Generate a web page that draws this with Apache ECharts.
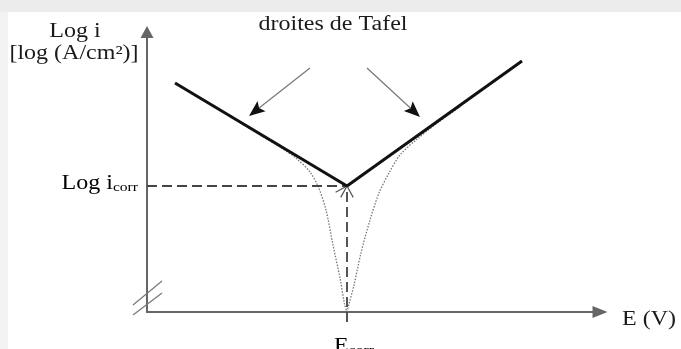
<!DOCTYPE html>
<html><head><meta charset="utf-8">
<script src="https://cdn.jsdelivr.net/npm/echarts@6/dist/echarts.min.js"></script>
<style>html,body{margin:0;padding:0;background:#fff}#c{width:681px;height:349px}</style>
</head><body><div id="c"></div>
<script>
// ---- data (arbitrary E / log i units) ----
const Ecorr = 20.0;
const logIcorr = 12.6;
const xRange = [0, 45.3];
const yRange = [0, 28];
const cathodicTafel = [[2.8, 22.9], [20.0, 12.6]];
const anodicTafel = [[20.0, 12.6], [37.5, 25.1]];
const cathodicCurve = [[8.3, 19.55], [11.3, 17.7], [13.3, 16.5], [15.0, 15.3], [16.3, 14.0], [17.1, 12.6], [17.9, 10.2], [18.6, 6.7], [19.3, 3.4], [19.75, 0.8], [20.0, 0]];
const anodicCurve = [[20.0, 0], [20.2, 0.8], [20.7, 2.7], [21.4, 5.9], [22.3, 9.2], [23.2, 11.9], [24.2, 13.9], [25.3, 15.7], [26.9, 17.2], [29.3, 19.1], [31.3, 20.5]];
const tafelArrows = [[16.3, 24.4, 10.2, 19.6], [22.0, 24.4, 27.3, 19.5]];
const guideArrows = [[0, logIcorr, Ecorr, logIcorr], [Ecorr, -1, Ecorr, logIcorr]];
const yTitle = ['Log i', '[log (A/cm²)]'];
const annotation = 'droites de Tafel';
const xName = 'E (V)';

const FONT = "'Liberation Serif', 'Times New Roman', serif";
const chart = echarts.init(document.getElementById('c'), null, {renderer: 'canvas'});

function renderTafelArrow(params, api) {
  const p1 = api.coord([api.value(0), api.value(1)]);
  const p2 = api.coord([api.value(2), api.value(3)]);
  const a = Math.atan2(p2[1] - p1[1], p2[0] - p1[0]);
  const c = Math.cos(a), s = Math.sin(a);
  const L = 16, W = 6.5;
  const base = [p2[0] - L * c, p2[1] - L * s];
  const notch = [p2[0] - L * 0.8 * c, p2[1] - L * 0.8 * s];
  const nx = -s, ny = c;
  return {type: 'group', children: [
    {type: 'line', shape: {x1: p1[0], y1: p1[1], x2: notch[0], y2: notch[1]}, style: {stroke: '#777', lineWidth: 1.2}},
    {type: 'polygon', shape: {points: [p2, [base[0] + nx * W, base[1] + ny * W], notch, [base[0] - nx * W, base[1] - ny * W]]}, style: {fill: '#111'}}
  ]};
}
function renderGuideArrow(params, api) {
  const p1 = api.coord([api.value(0), api.value(1)]);
  const p2 = api.coord([api.value(2), api.value(3)]);
  const a = Math.atan2(p2[1] - p1[1], p2[0] - p1[0]);
  const L = 13, h = 0.5;
  const b1 = [p2[0] - L * Math.cos(a - h), p2[1] - L * Math.sin(a - h)];
  const b2 = [p2[0] - L * Math.cos(a + h), p2[1] - L * Math.sin(a + h)];
  return {type: 'group', children: [
    {type: 'line', shape: {x1: p1[0], y1: p1[1], x2: p2[0], y2: p2[1]}, style: {stroke: '#444', lineWidth: 1.8, lineDash: [10, 5]}},
    {type: 'polyline', shape: {points: [b1, p2, b2]}, style: {stroke: '#555', lineWidth: 1.2, fill: null}}
  ]};
}

const axisLineStyle = {color: '#666', width: 2};
chart.setOption({
  animation: false,
  backgroundColor: '#fff',
  grid: {left: 147, top: 32, width: 453, height: 280},
  xAxis: {type: 'value', min: xRange[0], max: xRange[1],
    axisLine: {show: true, symbol: ['none', 'triangle'], symbolSize: [12, 15], lineStyle: axisLineStyle},
    axisTick: {show: false}, axisLabel: {show: false}, splitLine: {show: false}},
  yAxis: {type: 'value', min: yRange[0], max: yRange[1],
    axisLine: {show: true, symbol: ['none', 'triangle'], symbolSize: [13, 12], lineStyle: axisLineStyle},
    axisTick: {show: false}, axisLabel: {show: false}, splitLine: {show: false}},
  series: [
    {type: 'line', data: cathodicCurve, smooth: 0.3, showSymbol: false, clip: false,
      lineStyle: {color: '#777', width: 1.3, type: [1.5, 1.5]}, z: 2},
    {type: 'line', data: anodicCurve, smooth: 0.3, showSymbol: false, clip: false,
      lineStyle: {color: '#777', width: 1.3, type: [1.5, 1.5]}, z: 2},
    {type: 'custom', data: guideArrows, renderItem: renderGuideArrow, clip: false, encode: {x: [0, 2], y: [1, 3]}, z: 3},
    {type: 'line', data: cathodicTafel, showSymbol: false, clip: false, lineStyle: {color: '#111', width: 3}, z: 4},
    {type: 'line', data: anodicTafel, showSymbol: false, clip: false, lineStyle: {color: '#111', width: 3}, z: 4},
    {type: 'custom', data: tafelArrows, renderItem: renderTafelArrow, clip: false, encode: {x: [0, 2], y: [1, 3]}, z: 4}
  ]
});

const o = chart.convertToPixel({gridIndex: 0}, [0, 0]);
const pI = chart.convertToPixel({gridIndex: 0}, [0, logIcorr]);
const pE = chart.convertToPixel({gridIndex: 0}, [Ecorr, 0]);
const pX = chart.convertToPixel({gridIndex: 0}, [xRange[1], 0]);
const SX = 1.2;
function txt(x, y, text, align, extra) {
  return Object.assign({type: 'text', x: x, y: y, scaleX: SX, z: 10,
    style: {text: text, font: '20px ' + FONT, fill: '#1a1a1a', align: align, verticalAlign: 'middle'}}, extra || {});
}
const subRich = {
  m: {fontSize: 20, fontFamily: FONT, color: '#1a1a1a', lineHeight: 22, verticalAlign: 'bottom'},
  s: {fontSize: 13, fontFamily: FONT, color: '#1a1a1a', lineHeight: 15, verticalAlign: 'bottom'}
};
chart.setOption({graphic: [
  {type: 'rect', shape: {x: 0, y: 0, width: 681, height: 12}, style: {fill: '#ececec'}, z: -10},
  {type: 'rect', shape: {x: 0, y: 12, width: 8, height: 337}, style: {fill: '#f3f3f3'}, z: -10},
  txt(75, 32, yTitle[0], 'center'),
  txt(74, 54, yTitle[1], 'center'),
  txt(333, 25, annotation, 'center'),
  txt(pX[0] + 22, 320, xName, 'left'),
  {type: 'text', x: pI[0] - 9, y: pI[1] - 3, scaleX: SX, z: 10,
    style: {text: '{m|Log i}{s|corr}', rich: subRich, align: 'right', verticalAlign: 'middle'}},
  {type: 'text', x: pE[0] + 7, y: pE[1] + 34, scaleX: SX, z: 10,
    style: {text: '{m|E}{s|corr}', rich: subRich, align: 'center', verticalAlign: 'middle'}},
  {type: 'line', shape: {x1: o[0] - 14, y1: o[1] - 7, x2: o[0] + 15, y2: o[1] - 31}, style: {stroke: '#777', lineWidth: 1.2}, z: 10},
  {type: 'line', shape: {x1: o[0] - 14, y1: o[1] + 3, x2: o[0] + 15, y2: o[1] - 19}, style: {stroke: '#777', lineWidth: 1.2}, z: 10}
]});
</script>
</body></html>
